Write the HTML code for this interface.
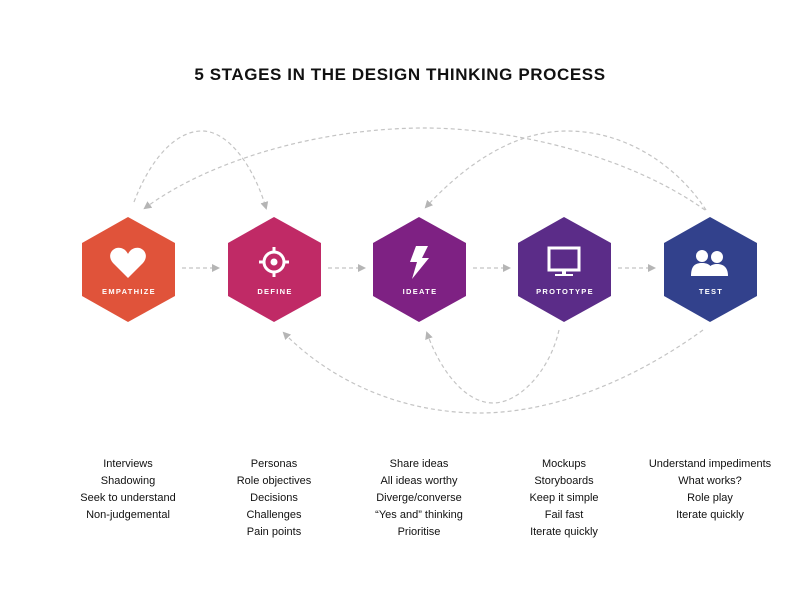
<!DOCTYPE html>
<html><head><meta charset="utf-8"><style>
body{margin:0;background:#fff;width:800px;height:600px;overflow:hidden;font-family:"Liberation Sans",sans-serif}
</style></head><body>
<svg width="800" height="600" viewBox="0 0 800 600" xmlns="http://www.w3.org/2000/svg">
<defs>
<marker id="a" markerWidth="8" markerHeight="8" refX="6" refY="4" orient="auto" markerUnits="userSpaceOnUse"><path d="M0,0 L8,4 L0,8 z" fill="#b5b5b5"/></marker>
</defs>
<text x="400" y="80" text-anchor="middle" font-size="17" font-weight="bold" letter-spacing="0.6" fill="#111">5 STAGES IN THE DESIGN THINKING PROCESS</text>
<g fill="none" stroke="#c4c4c4" stroke-width="1.2" stroke-dasharray="4,3">
<path d="M134,202 C150,160 175,131 202,131 C230,131 255,170 266,208" marker-end="url(#a)"/>
<path d="M705,210 C620,150 500,128 425,128 C320,128 210,160 145,208" marker-end="url(#a)"/>
<path d="M706,210 C680,170 630,131 567,131 C510,131 460,170 426,207" marker-end="url(#a)"/>
<path d="M703,330 C620,390 540,413 480,413 C400,413 330,380 284,333" marker-end="url(#a)"/>
<path d="M559,330 C550,370 520,403 493,403 C465,403 440,370 427,333" marker-end="url(#a)"/>
<path d="M182,268 H218" marker-end="url(#a)"/>
<path d="M328,268 H364" marker-end="url(#a)"/>
<path d="M473,268 H509" marker-end="url(#a)"/>
<path d="M618,268 H654" marker-end="url(#a)"/>
</g>
<g>
<polygon points="128,217 175,243 175,296 128,322 82,296 82,243" fill="#E0533A"/>
<polygon points="274,217 321,243 321,296 274,322 228,296 228,243" fill="#C02A66"/>
<polygon points="419,217 466,243 466,296 419,322 373,296 373,243" fill="#7E2183"/>
<polygon points="564,217 611,243 611,296 564,322 518,296 518,243" fill="#5B2C88"/>
<polygon points="710,217 757,243 757,296 710,322 664,296 664,243" fill="#32418C"/>
</g>
<g fill="#fff" font-size="7.5" font-weight="bold" letter-spacing="1.3" text-anchor="middle">
<text x="129" y="294">EMPATHIZE</text>
<text x="275" y="294">DEFINE</text>
<text x="420" y="294">IDEATE</text>
<text x="565" y="294">PROTOTYPE</text>
<text x="711" y="294">TEST</text>
</g>
<path d="M128,278 L113,263 C106,255 113,246 121,248 C125,249 127,252 128,254 C129,252 131,249 135,248 C143,246 150,255 143,263 z" fill="#fff"/>
<g fill="none" stroke="#fff">
<circle cx="274" cy="262" r="10" stroke-width="3"/>
<circle cx="274" cy="262" r="3.5" fill="#fff" stroke="none"/>
<path d="M274,247 v5 M274,272 v5 M259,262 h5 M284,262 h5" stroke-width="3"/>
</g>
<path d="M416,246 L428,246 L422,258 L429,258 L412,279 L417,262 L410,262 z" fill="#fff"/>
<rect x="549" y="248" width="30" height="22" fill="none" stroke="#fff" stroke-width="3"/>
<rect x="562" y="270" width="4" height="4" fill="#fff"/><rect x="555" y="274" width="18" height="2" fill="#fff"/>
<g fill="#fff">
<circle cx="702" cy="256" r="6"/><path d="M691,276 C691,266 695,263 702,263 C709,263 713,266 713,276 z"/>
<circle cx="717" cy="257" r="6"/><path d="M707,276 C707,267 711,264 717,264 C723,264 728,267 728,276 z"/>
</g>
<g font-size="11" fill="#111" text-anchor="middle">
<text x="128" y="467">Interviews</text><text x="128" y="484">Shadowing</text><text x="128" y="501">Seek to understand</text><text x="128" y="518">Non-judgemental</text>
<text x="274" y="467">Personas</text><text x="274" y="484">Role objectives</text><text x="274" y="501">Decisions</text><text x="274" y="518">Challenges</text><text x="274" y="535">Pain points</text>
<text x="419" y="467">Share ideas</text><text x="419" y="484">All ideas worthy</text><text x="419" y="501">Diverge/converse</text><text x="419" y="518">“Yes and” thinking</text><text x="419" y="535">Prioritise</text>
<text x="564" y="467">Mockups</text><text x="564" y="484">Storyboards</text><text x="564" y="501">Keep it simple</text><text x="564" y="518">Fail fast</text><text x="564" y="535">Iterate quickly</text>
<text x="710" y="467">Understand impediments</text><text x="710" y="484">What works?</text><text x="710" y="501">Role play</text><text x="710" y="518">Iterate quickly</text>
</g>
</svg>
</body></html>
